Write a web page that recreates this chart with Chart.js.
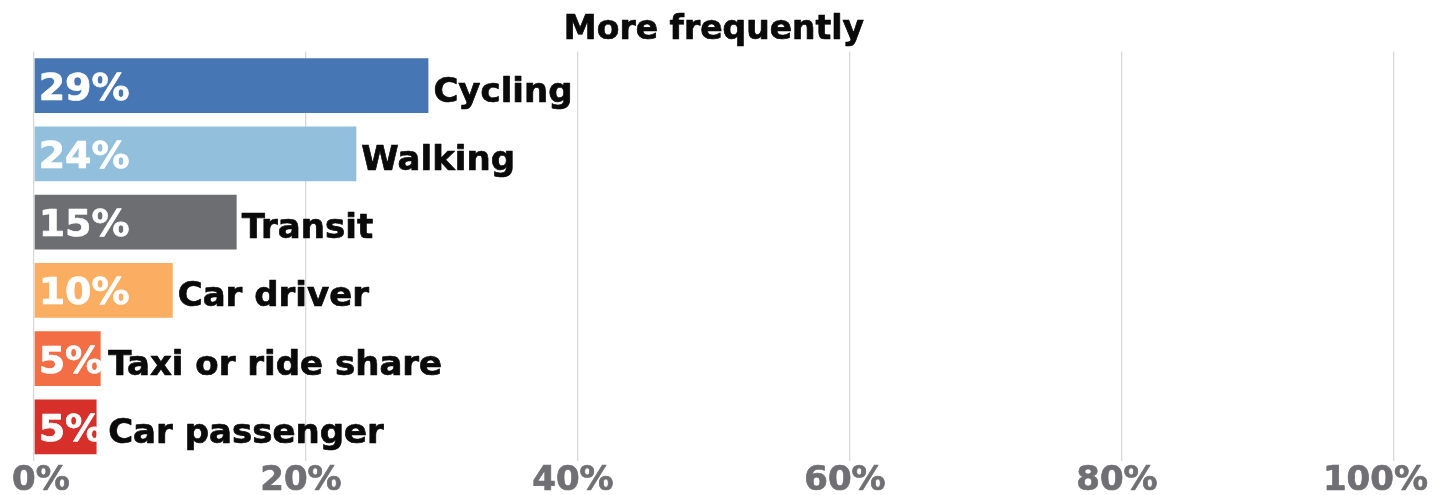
<!DOCTYPE html>
<html>
<head>
<meta charset="utf-8">
<script src="https://cdn.jsdelivr.net/npm/chart.js@4.4.1/dist/chart.umd.min.js"></script>
<style>
  html, body { margin: 0; padding: 0; background: #fff; }
</style>
</head>
<body>
<canvas id="myChart" width="1445" height="495"></canvas>
<script>
// share of respondents travelling this way more frequently
var modes = ["Cycling", "Walking", "Transit", "Car driver", "Taxi or ride share", "Car passenger"];
var shares = [29.0, 23.7, 14.9, 10.2, 4.9, 4.6];
var barColors = ["#4676b4", "#91bfdc", "#6d6e72", "#fbae62", "#f36d45", "#d7302a"];
var tickValues = [0, 20, 40, 60, 80, 100];
var chartTitle = "More frequently";

var font = "'DejaVu Sans', Verdana, sans-serif";

// bold text with a thin outline in the same colour so it reads heavier
function heavyText(ctx, txt, x, y, color) {
  ctx.fillStyle = color;
  ctx.strokeStyle = color;
  ctx.lineWidth = 0.7;
  ctx.lineJoin = "round";
  ctx.fillText(txt, x, y);
  ctx.strokeText(txt, x, y);
}

// title, axis labels and the text on/next to each bar
var barText = {
  id: "barText",
  afterDraw: function(chart) {
    var ctx = chart.ctx;
    var area = chart.chartArea;
    var xs = chart.scales.x;
    var W = chart.width;
    ctx.save();
    ctx.textBaseline = "alphabetic";

    ctx.font = "bold 33px " + font;
    ctx.textAlign = "center";
    heavyText(ctx, chartTitle, (area.left + area.right) / 2, 39, "#0a0a0a");

    // x tick labels, kept inside the canvas
    ctx.font = "bold 34px " + font;
    ctx.textAlign = "left";
    tickValues.forEach(function(v) {
      var txt = v + "%";
      var w = ctx.measureText(txt).width;
      var left = xs.getPixelForValue(v) - 5 - w / 2;
      left = Math.max(12, Math.min(W - 17 - w, left));
      heavyText(ctx, txt, left, 490, "#707074");
    });

    var meta = chart.getDatasetMeta(0);
    meta.data.forEach(function(bar, i) {
      var x0 = bar.base;
      var yc = bar.y;
      ctx.font = "bold 38px " + font;
      var val = Math.round(shares[i]) + "%";
      var vw = ctx.measureText(val).width;
      heavyText(ctx, val, x0 + 4, yc + 14, "#ffffff");

      ctx.font = "bold 34px " + font;
      var lx = Math.max(bar.x, x0 + 4 + vw) + 5;
      heavyText(ctx, modes[i], lx, yc + 16, "#0a0a0a");
    });

    ctx.restore();
  }
};

var ctx = document.getElementById("myChart").getContext("2d");
var myChart = new Chart(ctx, {
  type: "bar",
  data: {
    labels: modes,
    datasets: [{
      data: shares,
      backgroundColor: barColors,
      borderWidth: 0,
      barPercentage: 0.8,
      categoryPercentage: 1.0
    }]
  },
  options: {
    indexAxis: "y",
    responsive: false,
    animation: false,
    layout: { padding: { left: 34, right: 51, top: 51.5, bottom: 34 } },
    plugins: {
      legend: { display: false },
      tooltip: { enabled: false },
      title: { display: false }
    },
    scales: {
      x: {
        min: 0,
        max: 100,
        ticks: { stepSize: 20, display: false },
        grid: { color: "#d9d9d9", lineWidth: 1.3, drawTicks: false },
        border: { display: false }
      },
      y: {
        display: false,
        grid: { display: false }
      }
    }
  },
  plugins: [barText]
});
</script>
</body>
</html>
